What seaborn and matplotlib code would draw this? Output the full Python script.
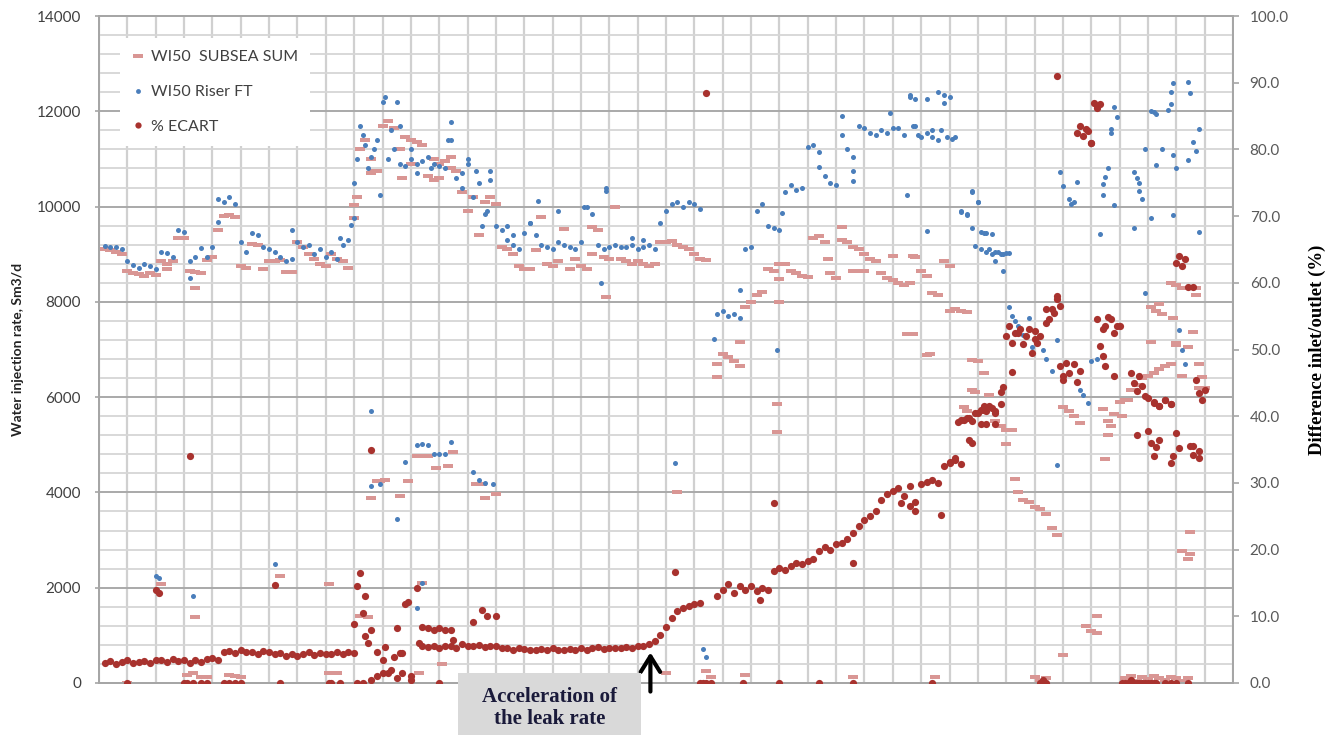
#!/usr/bin/env python3
"""WI50 water injection: subsea sum vs riser flow, with % difference (leak)."""
import matplotlib
matplotlib.use("Agg")
import matplotlib.pyplot as plt
import numpy as np
import pandas as pd
import seaborn as sns
from matplotlib.lines import Line2D
from matplotlib.patches import Rectangle

sns.set_style("white")
plt.rcParams["font.family"] = ["Lato", "DejaVu Sans"]

# ---- data (day index, one value every 2 days; None = no reading) ----
base_days = list(range(2, 394, 2))

subsea_sum = [
    9100, 9080, 9050, 9000, 8650, 8600, 8580, 8550, 8600, 8560,
    8850, 8800, 8850, 9330, 9330, 8650, 8620, 8600, 8880, 8950,
    9500, 9800, 9830, 9780, 8750, 8720, 9210, 9200, 8700, 8850,
    8850, 8870, 8620, 8620, 9250, 9150, 9000, 8900, 8800, 8750,
    9000, 8900, 8850, 8720, 9750, 11200, 11400, 11000, 10750, 11700,
    11800, 11650, 11200, 11450, 11400, 11350, 11300, 10650, 10550, 10600,
    10950, 10800, 10750, 10300, 9900, 10200, 9400, 10100, 10200, 10050,
    9150, 9100, 9000, 8750, 8700, 8680, 9080, 9780, 8800, 8750,
    8850, 9530, 8700, 8900, 8750, 8700, 9570, 9500, 8950, 8900,
    10000, 8900, 8850, 8800, 8850, 8800, 8750, 8800, 9250, 9250,
    9280, 9200, 9150, 9100, 9000, 8900, 8880, None, 6700, 6900,
    6850, 6750, 6650, 7900, 8000, 8150, 8200, 8700, 8650, 8800,
    8800, 8650, 8600, 8550, 8520, 9350, 9380, 9250, 8600, 8500,
    9300, 9250, 9150, 9100, 9000, 8900, 8850, 8600, 8500, 8450,
    8400, 8350, 8400, 8950, 8650, 8550, 8180, 8150, 8850, 8750,
    7850, 7800, 7780, 6150, 6750, 6500, 6050, 5500, 5400, 5300,
    5300, 4000, 3850, 3800, 3700, 3650, 3550, 3250, 3100, 5800,
    5700, 5600, 5450, 1200, 1100, 1050, 5750, 5500, 5650, 5900,
    5950, 6150, 6250, 6400, 6450, 6500, 6600, 6650, 6700, 7100,
    6450, 7050, 7370, 6700, 6200, None,
]

riser_ft = [
    9180, 9160, 9150, 9100, 8850, 8780, 8720, 8800, 8760, 8700,
    9050, 9020, 8950, 9500, 9460, 8850, 8950, 9120, 8950, 9150,
    10150, 10100, 10200, 10050, 9250, 9050, 9450, 9400, 9150, 9100,
    9050, 8950, 8850, 8900, 9250, 9150, 9200, 9000, 9100, 8950,
    9050, 8900, 9200, 9300, 9750, 11700, 11300, 11050, 11400, 12200,
    11000, 11200, 10900, 10850, 11000, 10900, 10950, 11050, 10900, 10850,
    10800, 11400, 10600, 10400, 10900, 10200, 10500, 9850, 10550, 9600,
    9500, 9300, 9200, 9100, 9450, 9650, 9400, 9200, 9150, 9100,
    9250, 9200, 9150, 9100, 9250, 10000, 9850, 9200, 9100, 9150,
    9200, 9150, 9150, 9200, 9100, 9150, 9200, 9100, 9650, 9900,
    10050, 10100, 10000, 10100, 10050, 9950, None, None, 7750, 7800,
    7700, 7750, 8250, 9100, 9150, 9900, 10050, 9600, 9550, 9500,
    10300, 10450, 10350, 10400, 11250, 11300, 11150, 10650, 10500, 10450,
    11500, 11200, 11050, 11700, 11650, 11550, 11500, 11600, 11550, 11650,
    11650, 11500, 12300, 11700, 11450, 11550, 11600, 11400, 12350, 12300,
    11450, 9900, 9850, 10300, 10100, 9450, 9100, 9050, 9000, 9020,
] + [None] * 36

ecart_pct = [
    3.0, 3.3, 2.8, 3.1, 3.4, 3.0, 3.2, 3.3, 3.0, 3.4,
    3.5, 3.2, 3.6, 3.3, 3.5, 3.0, 3.4, 3.2, 3.6, 3.8,
    3.5, 4.6, 4.8, 4.5, 4.9, 4.6, 4.7, 4.4, 4.8, 4.6,
    4.3, 4.5, 4.1, 4.4, 4.0, 4.3, 4.6, 4.2, 4.5, 4.4,
    4.3, 4.6, 4.4, 4.7, 4.5, 16.5, 13.0, 8.0, 4.7, 3.5,
    1.5, 3.9, 4.5, 11.8, 1.0, 14.2, 5.5, 5.4, 5.6, 5.2,
    5.5, 5.6, 5.3, 5.8, 5.5, 5.6, 5.7, 5.4, 5.5, 5.6,
    5.2, 5.3, 5.0, 5.2, 5.1, 5.0, 4.9, 5.1, 5.0, 5.2,
    5.0, 4.9, 5.1, 5.0, 5.3, 5.0, 5.2, 5.4, 5.1, 5.3,
    5.2, 5.3, 5.4, 5.2, 5.6, 5.5, 5.9, 6.3, 7.2, 8.4,
    9.8, 10.8, 11.2, 11.5, 11.8, 12.0, None, None, 13.0, 14.0,
    14.8, 13.5, 14.5, 14.0, 14.5, 13.8, 14.2, 14.0, 16.8, 17.2,
    17.0, 17.6, 18.0, 17.8, 18.3, 18.6, 19.8, 20.4, 20.0, 20.8,
    21.0, 21.6, 22.5, 23.5, 24.5, 25.0, 25.8, 27.5, 28.3, 28.8,
    29.2, 28.0, 29.5, 27.2, 29.8, 30.2, 30.5, 30.0, 32.5, 33.2,
    33.5, 39.5, 39.8, 39.3, 40.5, 41.0, 41.5, 40.8, 43.6, 52.0,
    51.0, 52.5, 50.8, 53.0, 51.5, 52.0, 54.0, 56.0, 57.5, 46.0,
    46.5, 47.8, 46.8, 83.0, 81.0, 86.5, 53.0, 54.8, 52.5, 53.5,
    0.0, 46.5, 43.8, 44.5, 42.8, 42.0, 41.5, 42.5, 41.8, 37.5,
    62.5, 59.4, 35.5, 34.8, 44.0, None,
]

# scattered readings off the main trend: (day, value)
subsea_extra = [
    (22, 2080), (34, 1380), (64, 2250), (81, 2080), (24, 8680), (34, 8290),
    (10, 0), (31, 170), (33, 200), (36, 130), (38, 130), (46, 170), (48, 150),
    (50, 130), (81, 200), (84, 210), (92, 1400), (95, 1380), (113, 210), (121, 400),
    (96, 3880), (98, 4250), (99, 4250), (101, 4260), (106, 3930), (109, 4250),
    (112, 4760), (114, 4760), (116, 4760), (119, 4510), (123, 4550), (125, 4840),
    (133, 4180), (135, 4180), (136, 3890), (140, 3970), (114, 2100),
    (90, 10040), (91, 10200), (97, 10750), (96, 10700), (107, 10600), (110, 10900),
    (118, 11000), (120, 10900), (124, 11050), (179, 8100), (174, 9000),
    (204, 4000), (200, 200), (214, 250), (216, 120), (228, 160), (218, 6420),
    (226, 7150), (239, 5860), (239, 5260), (240, 8480), (240, 8000), (257, 8910),
    (262, 9570), (266, 8650), (268, 8650), (270, 8650), (266, 120), (280, 8970),
    (287, 8970), (287, 7320), (293, 6900), (295, 120), (300, 7800), (285, 7330),
    (292, 6880), (305, 5800), (306, 5700), (309, 6100), (308, 6780), (320, 5020),
    (323, 4290), (330, 120), (332, 50), (334, 100), (340, 590), (352, 1400),
    (355, 4700), (356, 5200), (357, 5400), (361, 5600), (363, 5950),
    (371, 7150), (371, 7900), (373, 7800), (375, 7750), (374, 7960), (379, 7670),
    (378, 8400), (380, 8350), (382, 8300), (385, 8300), (387, 8300), (387, 8140),
    (380, 7130), (385, 3160), (382, 2770), (384, 2600), (385, 2700), (389, 6420),
    (388, 6200), (362, 100), (364, 150), (366, 50), (368, 120), (370, 80),
    (372, 150), (374, 100), (376, 60), (378, 120), (380, 100), (382, 50), (384, 100),
]

riser_extra = [
    (20, 2250), (21, 2200), (33, 1830), (62, 2500), (32, 8500), (42, 9670),
    (68, 9500), (85, 9330), (89, 9620), (90, 10500), (99, 10250), (91, 11000),
    (93, 11500), (95, 10800), (97, 11200), (101, 12300), (105, 12200),
    (96, 5710), (96, 4130), (99, 4180), (105, 3440), (108, 4640), (112, 5000),
    (114, 5020), (116, 5000), (118, 4800), (120, 4800), (122, 4800), (124, 5050),
    (132, 4430), (134, 4260), (136, 4200), (139, 4180), (114, 2100), (112, 1570),
    (124, 11780), (123, 11400), (130, 11000), (133, 10740), (138, 10740),
    (103, 11600), (106, 11700), (110, 11200), (112, 10700), (117, 10800),
    (128, 10700), (135, 9600), (137, 9900), (144, 9600), (146, 9400), (152, 9660),
    (155, 10120), (162, 9900), (171, 10000), (177, 8400), (179, 10400),
    (179, 10320), (188, 9350), (192, 9300), (203, 4620), (213, 720), (214, 550),
    (217, 7210), (226, 7670), (239, 7000), (241, 9860), (254, 10840), (262, 11910),
    (266, 10750), (266, 10540), (279, 11970), (285, 10250), (292, 12260),
    (292, 9490), (287, 11700), (289, 11500), (294, 11450), (297, 11600),
    (299, 11450), (301, 11420), (286, 12340), (288, 12260), (296, 12400),
    (298, 12170),
    (304, 9880), (306, 9820), (308, 10330), (310, 10090), (308, 9560),
    (311, 9460), (313, 9440), (315, 9420), (309, 9180), (311, 9100), (313, 9050),
    (315, 9000), (317, 9050), (319, 9000), (321, 9020), (316, 8860), (319, 8640),
    (321, 7900), (322, 7700), (323, 7600), (324, 7500), (326, 7300), (328, 7670),
    (329, 7050), (333, 7000), (334, 6800), (336, 6550), (338, 7200), (338, 4580),
    (339, 10730), (340, 10440), (342, 10150), (343, 10050), (344, 10100),
    (345, 10510), (346, 6150), (347, 6050), (349, 5870), (350, 6750), (352, 6800),
    (353, 9420), (354, 10250), (354, 10470), (355, 10620), (356, 10820),
    (357, 11550), (357, 11630), (358, 12100), (358, 10040), (359, 11870),
    (365, 9540), (365, 10720), (366, 10600), (367, 10500), (367, 10330),
    (368, 10160), (369, 11210), (369, 8180), (371, 12000), (372, 11980),
    (373, 11950), (373, 10880), (375, 11210), (371, 9770), (377, 12030),
    (378, 12400), (378, 12150), (379, 12590), (379, 11090), (380, 10820),
    (379, 9830), (381, 7400), (382, 7000), (383, 6700), (384, 12620),
    (385, 12380), (386, 11350), (387, 11160), (388, 11630), (384, 10980),
    (388, 9470),
]

ecart_extra = [
    (20, 14.0), (21, 13.5), (32, 34.0), (62, 14.7), (91, 14.5), (93, 10.5),
    (90, 8.8), (94, 7.0), (95, 6.0), (96, 35.0), (101, 5.4), (105, 8.3),
    (107, 4.5), (109, 12.2), (113, 6.0), (114, 8.4), (116, 8.2), (118, 8.0),
    (120, 8.3), (122, 8.0), (124, 8.0), (125, 6.5), (132, 9.2), (135, 11.0),
    (137, 10.0), (140, 10.0),
    (10, 0), (30, 0), (31, 0), (33, 0), (36, 0), (38, 0), (44, 0), (46, 0),
    (48, 0), (50, 0), (64, 0), (81, 0), (82, 0), (85, 0), (91, 0), (93, 0),
    (96, 0.5), (98, 1.0), (100, 1.5), (103, 2.0), (105, 0.8), (107, 1.5),
    (110, 0.5), (120, 0), (212, 0), (213, 0), (214, 0), (216, 0), (227, 0),
    (240, 0), (254, 0), (266, 0), (294, 0),
    (203, 16.6), (214, 88.4), (238, 27.0), (233, 12.4), (266, 18.0), (288, 25.8),
    (297, 25.2), (286, 26.5), (283, 27.0),
    (300, 33.0), (302, 33.7), (304, 32.8), (303, 39.2), (305, 39.5), (307, 39.8),
    (307, 36.5), (308, 36.0), (309, 40.5), (311, 41.0), (312, 41.5), (313, 40.8),
    (315, 41.2), (316, 40.5), (318, 41.8), (319, 44.4), (311, 38.9), (313, 38.9),
    (316, 38.8), (322, 46.7), (321, 53.5), (323, 52.5), (325, 53.0), (327, 52.0),
    (329, 49.5), (330, 52.8), (331, 51.0), (334, 56.0), (335, 54.5), (337, 55.5),
    (338, 58.0), (339, 56.5), (338, 91.0), (339, 47.5), (340, 45.5), (341, 48.0),
    (345, 45.2), (345, 82.5), (346, 83.5), (347, 82.0), (349, 82.8), (350, 81.0),
    (351, 87.0), (352, 86.2), (353, 86.8), (352, 54.5), (355, 53.5), (357, 54.5),
    (359, 53.5), (353, 50.5), (354, 49.0), (355, 47.5), (358, 46.0), (365, 45.0),
    (367, 46.0), (369, 43.0), (372, 42.2), (374, 41.5), (376, 42.5), (378, 41.8),
    (366, 37.2), (370, 37.8), (371, 36.0), (372, 34.0), (373, 35.4), (374, 36.5),
    (378, 33.0), (379, 34.0), (381, 35.2), (385, 35.5), (386, 34.2), (388, 33.8),
    (380, 63.0), (381, 64.0), (383, 63.5), (386, 59.4), (387, 45.5), (388, 43.5),
    (389, 42.5),
    (332, 0), (333, 0.5), (334, 0), (361, 0), (363, 0), (364, 0.5), (365, 0),
    (366, 0), (367, 0), (368, 0), (369, 0), (370, 0), (371, 0), (372, 0),
    (373, 0), (376, 0), (378, 0), (380, 0), (384, 0),
]

PINK = "#D99694"
BLUE = "#4A7EBB"
DARKRED = "#A8322E"


def series_frame(base, extra):
    d = pd.DataFrame({"day": base_days, "value": base})
    e = pd.DataFrame(extra, columns=["day", "value"])
    return pd.concat([d, e], ignore_index=True).dropna()


subsea_df = series_frame(subsea_sum, subsea_extra)
riser_df = series_frame(riser_ft, riser_extra)
ecart_df = series_frame(ecart_pct, ecart_extra)

fig = plt.figure(figsize=(13.38, 7.35), dpi=100)
ax = fig.add_axes([99 / 1338, 52 / 735, 1134 / 1338, 667 / 735])
ax2 = ax.twinx()

# grid
ax.set_xlim(0, 400)
ax.set_ylim(0, 14000)
ax2.set_ylim(0, 100)
ax.set_xticks(np.arange(0, 401, 10))
ax.set_yticks(np.arange(0, 14001, 2000))
ax.set_yticks(np.arange(0, 14001, 400), minor=True)
ax.grid(axis="y", which="minor", color="#D6D6D6", lw=1.3)
ax.grid(axis="y", which="major", color="#A9A9A9", lw=1.4)
ax.grid(axis="x", which="major", color="#D0D0D0", lw=1.6)
ax.set_axisbelow(True)

dash = [(-1, -0.38), (1, -0.38), (1, 0.38), (-1, 0.38)]
sns.scatterplot(data=subsea_df, x="day", y="value", ax=ax, color=PINK,
                marker=dash, s=56, linewidth=0, zorder=3)
sns.scatterplot(data=riser_df, x="day", y="value", ax=ax, color=BLUE,
                s=13, linewidth=0, zorder=4)
sns.scatterplot(data=ecart_df, x="day", y="value", ax=ax2, color=DARKRED,
                s=27, linewidth=0, zorder=5)

for a in (ax, ax2):
    a.set_xlabel("")
    for side in ("left", "right", "bottom", "top"):
        a.spines[side].set_color("#A6A6A6")
        a.spines[side].set_linewidth(1.4)

ax.set_ylabel("Water injection rate, Sm3/d", fontsize=10, fontweight="bold",
              color="#222222", labelpad=9)
ax.tick_params(axis="y", which="major", length=3, width=1.2, color="#A6A6A6",
               labelsize=11, labelcolor="#404040", pad=10)
ax.tick_params(axis="y", which="minor", length=0)
ax.tick_params(axis="x", length=3, width=1.2, color="#A6A6A6", labelbottom=False)

ax2.set_yticks(np.arange(0, 101, 10))
ax2.set_yticklabels([f"{v:.1f}" for v in np.arange(0, 101, 10)])
ax2.tick_params(axis="y", length=4, width=1.2, color="#A6A6A6", labelsize=11,
                labelcolor="#595959", pad=8)
ax2.set_ylabel("Difference inlet/outlet (%)", fontsize=13.5, fontweight="bold",
               family=["Liberation Serif"], color="black", labelpad=14)

handles = [
    Line2D([], [], ls="", marker=dash, ms=7.5, color=PINK, mew=0),
    Line2D([], [], ls="", marker="o", ms=3.5, color=BLUE, mew=0),
    Line2D([], [], ls="", marker="o", ms=4.5, color=DARKRED, mew=0),
]
labels = ["WI50  SUBSEA SUM", "WI50 Riser FT", "% ECART"]
leg = ax2.legend(handles, labels, loc="upper left",
                 bbox_to_anchor=(21 / 1134, 1 - 22 / 667), frameon=True,
                 facecolor="white", edgecolor="none", fancybox=False,
                 framealpha=1, fontsize=11.5, labelspacing=1.3,
                 handlelength=0.8, handletextpad=0.4, borderpad=0.75,
                 borderaxespad=0)
for t in leg.get_texts():
    t.set_color("#404040")

# annotation box and arrow
fig.patches.append(Rectangle((458 / 1338, 0), 183 / 1338, 62 / 735,
                             transform=fig.transFigure, facecolor="#D9D9D9",
                             edgecolor="none", zorder=10))
fig.text(550 / 1338, 27 / 735, "Acceleration of\nthe leak rate", ha="center",
         va="center", fontsize=15, fontweight="bold", family=["Liberation Serif"],
         color="#1A1A3A", linespacing=1.1, zorder=11)
ax2.annotate("", xy=(194.5, 5.0), xytext=(194.5, -1.7),
             arrowprops=dict(arrowstyle="->,head_length=0.8,head_width=0.5",
                             lw=3, color="black", mutation_scale=14),
             annotation_clip=False, zorder=12)

fig.savefig("out.png", dpi=100)
